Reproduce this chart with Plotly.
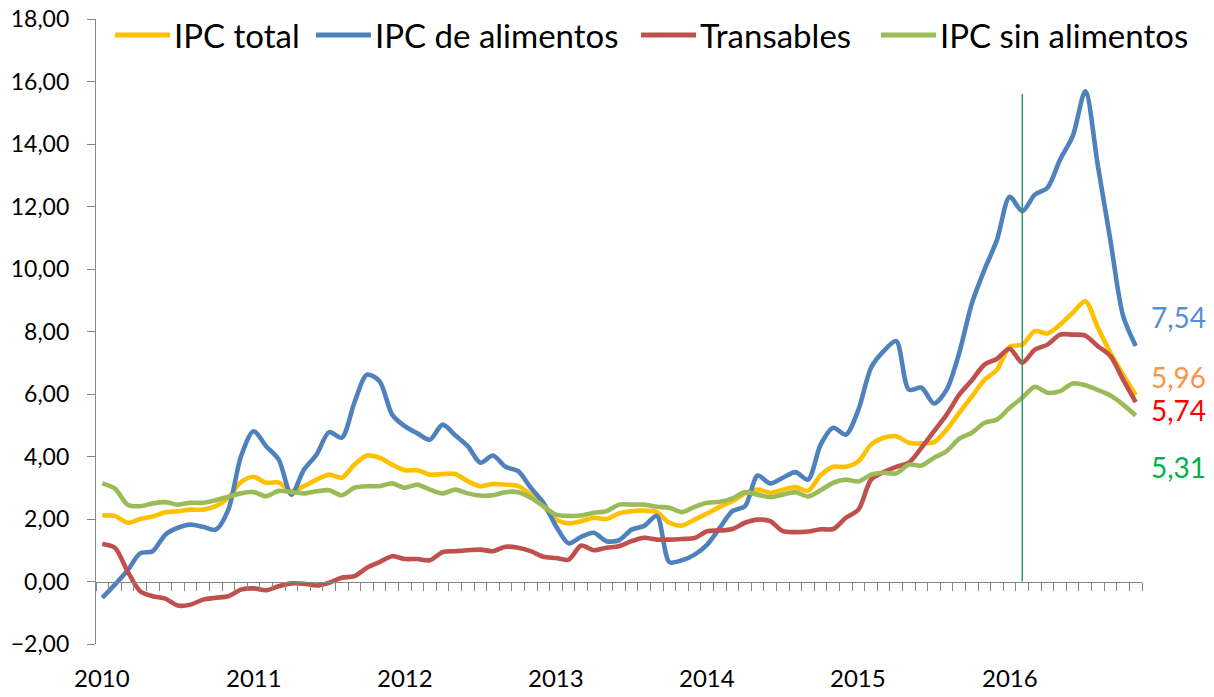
"""Inflación anual: IPC total, alimentos, transables y sin alimentos (2010-2016)."""

import numpy as np
import pandas as pd
import plotly.graph_objects as go

months = pd.date_range("2010-01-01", periods=83, freq="MS")
years = ["2010", "2011", "2012", "2013", "2014", "2015", "2016"]

ipc_total = [
    2.11, 2.10, 1.88, 2.00, 2.08, 2.22, 2.25, 2.30, 2.30, 2.41, 2.68, 3.18,
    3.35, 3.16, 3.17, 2.89, 3.05, 3.26, 3.42, 3.32, 3.74, 4.03, 3.96, 3.74,
    3.56, 3.56, 3.42, 3.44, 3.44, 3.21, 3.05, 3.12, 3.10, 3.05, 2.78, 2.41,
    1.98, 1.86, 1.93, 2.04, 2.00, 2.18, 2.25, 2.27, 2.22, 1.88, 1.79, 1.98,
    2.18, 2.39, 2.57, 2.82, 2.94, 2.84, 2.94, 3.02, 2.90, 3.40, 3.67, 3.67,
    3.85, 4.38, 4.60, 4.65, 4.44, 4.42, 4.46, 4.86, 5.40, 5.92, 6.45, 6.78,
    7.51, 7.58, 8.01, 7.94, 8.22, 8.60, 8.97, 8.12, 7.32, 6.62, 5.96,
]
ipc_alimentos = [
    -0.52, -0.10, 0.35, 0.90, 0.97, 1.50, 1.72, 1.82, 1.75, 1.66, 2.30, 4.00,
    4.81, 4.33, 3.90, 2.78, 3.58, 4.06, 4.78, 4.60, 5.72, 6.62, 6.41, 5.34,
    4.97, 4.74, 4.54, 5.02, 4.68, 4.33, 3.80, 4.03, 3.67, 3.53, 3.00, 2.52,
    1.77, 1.22, 1.43, 1.56, 1.29, 1.32, 1.66, 1.78, 2.10, 0.62, 0.68, 0.86,
    1.18, 1.72, 2.25, 2.41, 3.39, 3.14, 3.32, 3.50, 3.26, 4.38, 4.92, 4.70,
    5.50, 6.84, 7.37, 7.69, 6.14, 6.20, 5.70, 6.14, 7.32, 8.90, 9.98, 10.94,
    12.31, 11.85, 12.38, 12.60, 13.50, 14.25, 15.69, 13.30, 10.90, 8.50, 7.54,
]
transables = [
    1.20, 1.08, 0.33, -0.31, -0.47, -0.55, -0.77, -0.74, -0.58, -0.52, -0.47, -0.26,
    -0.22, -0.28, -0.15, -0.06, -0.07, -0.13, -0.04, 0.12, 0.17, 0.44, 0.62, 0.81,
    0.72, 0.72, 0.68, 0.94, 0.97, 1.00, 1.02, 0.97, 1.11, 1.08, 0.97, 0.79,
    0.75, 0.70, 1.15, 1.00, 1.08, 1.13, 1.29, 1.40, 1.34, 1.34, 1.36, 1.39,
    1.61, 1.63, 1.68, 1.88, 1.98, 1.93, 1.61, 1.58, 1.60, 1.67, 1.68, 2.04,
    2.30, 3.26, 3.50, 3.67, 3.80, 4.28, 4.81, 5.34, 5.98, 6.44, 6.94, 7.13,
    7.45, 7.00, 7.42, 7.58, 7.90, 7.90, 7.87, 7.53, 7.21, 6.46, 5.74,
]
ipc_sin_alimentos = [
    3.14, 2.97, 2.46, 2.41, 2.50, 2.54, 2.46, 2.52, 2.52, 2.60, 2.71, 2.82,
    2.86, 2.73, 2.90, 2.86, 2.82, 2.89, 2.92, 2.76, 3.00, 3.05, 3.05, 3.14,
    3.00, 3.10, 2.94, 2.82, 2.94, 2.82, 2.75, 2.76, 2.86, 2.86, 2.68, 2.41,
    2.14, 2.10, 2.11, 2.20, 2.25, 2.46, 2.46, 2.46, 2.39, 2.36, 2.22, 2.39,
    2.52, 2.55, 2.66, 2.86, 2.78, 2.70, 2.78, 2.86, 2.72, 2.92, 3.16, 3.26,
    3.20, 3.42, 3.48, 3.46, 3.74, 3.71, 3.96, 4.17, 4.57, 4.76, 5.08, 5.18,
    5.56, 5.88, 6.23, 6.04, 6.09, 6.34, 6.28, 6.13, 5.95, 5.66, 5.31,
]

# month where the vertical marker sits and its height
marker_month = "2016-02-01"
marker_top = 15.6

# name, values, line colour, end-label colour, end-label offset (px), legend left edge (px)
series = [
    ("IPC total", ipc_total, "#FFC000", "#F79646", 18, 115),
    ("IPC de alimentos", ipc_alimentos, "#4F81BD", "#558ED5", 29, 316),
    ("Transables", transables, "#C0504D", "#FF0000", -8, 641),
    ("IPC sin alimentos", ipc_sin_alimentos, "#9BBB59", "#00B050", -51, 881),
]

FONT = "Lato"
AXIS_GRAY = "#868686"
PAGE_PAD = 8  # the html body margin around the plot div
W, H = 1214 - PAGE_PAD, 697 - PAGE_PAD
M = dict(l=96 - PAGE_PAD, r=72, t=19 - PAGE_PAD, b=53)
PW = W - M["l"] - M["r"]
PH = H - M["t"] - M["b"]


def px_to_paper(px, py):
    """Window pixel -> paper fraction."""
    return (px - PAGE_PAD - M["l"]) / PW, (H - M["b"] - (py - PAGE_PAD)) / PH


x = np.arange(len(months))
fig = go.Figure()

for name, values, color, _, _, _ in series:
    fig.add_trace(
        go.Scatter(
            x=x,
            y=values,
            name=name,
            mode="lines",
            showlegend=False,
            line=dict(color=color, width=4.6, shape="spline", smoothing=0.8),
        )
    )

# legend drawn by hand so the swatches match the long line samples
legend_y = 35
for name, _, color, _, _, left in series:
    x0, y0 = px_to_paper(left, legend_y)
    x1, _ = px_to_paper(left + 55, legend_y)
    tx, _ = px_to_paper(left + 57, legend_y)
    fig.add_shape(
        type="line", xref="paper", yref="paper",
        x0=x0, x1=x1, y0=y0, y1=y0,
        line=dict(color=color, width=5),
    )
    fig.add_annotation(
        x=tx, y=y0, xref="paper", yref="paper",
        text=name, showarrow=False,
        xanchor="left", yanchor="middle",
        font=dict(family=FONT, size=33, color="black"),
    )

# end-of-series value labels
for name, values, _, label_color, yshift, _ in series:
    fig.add_annotation(
        x=x[-1],
        y=values[-1],
        xref="x",
        yref="y",
        text=f"{values[-1]:.2f}".replace(".", ","),
        showarrow=False,
        xanchor="left",
        xshift=13,
        yshift=yshift,
        font=dict(family=FONT, size=28, color=label_color),
    )

# year labels under the plot
year_pos = [int(np.where(months.year == int(y))[0][0]) for y in years]
for pos, label in zip(year_pos, years):
    fig.add_annotation(
        x=pos,
        y=0,
        xref="x",
        yref="paper",
        text=label,
        showarrow=False,
        yanchor="top",
        yshift=-17,
        font=dict(family=FONT, size=24, color="black"),
    )

mx = int(np.where(months == pd.Timestamp(marker_month))[0][0])
fig.add_shape(
    type="line",
    x0=mx, x1=mx, y0=0, y1=marker_top,
    xref="x", yref="y",
    line=dict(color="#2E9A6A", width=1.5),
)

fig.update_layout(
    width=W,
    height=H,
    margin=M,
    paper_bgcolor="white",
    plot_bgcolor="white",
    separators=",.",
    font=dict(family=FONT, color="black"),
    showlegend=False,
)

fig.update_xaxes(
    range=[-0.5, len(months) - 0.5],
    anchor="free",
    position=0.1,
    automargin=False,
    showline=True,
    linecolor=AXIS_GRAY,
    linewidth=1.2,
    showgrid=False,
    zeroline=False,
    tickmode="linear",
    tick0=-0.5,
    dtick=1,
    ticks="outside",
    ticklen=8,
    tickcolor=AXIS_GRAY,
    showticklabels=False,
)
fig.update_yaxes(
    range=[-2, 18],
    automargin=False,
    tickmode="linear",
    tick0=-2,
    dtick=2,
    tickformat=".2f",
    showline=True,
    linecolor=AXIS_GRAY,
    linewidth=1.2,
    showgrid=False,
    zeroline=False,
    ticks="outside",
    ticklen=8,
    tickcolor=AXIS_GRAY,
    ticklabelstandoff=13,
    ticklabeloverflow="allow",
    tickfont=dict(family=FONT, size=23, color="black"),
)

fig.write_html("out.html")
